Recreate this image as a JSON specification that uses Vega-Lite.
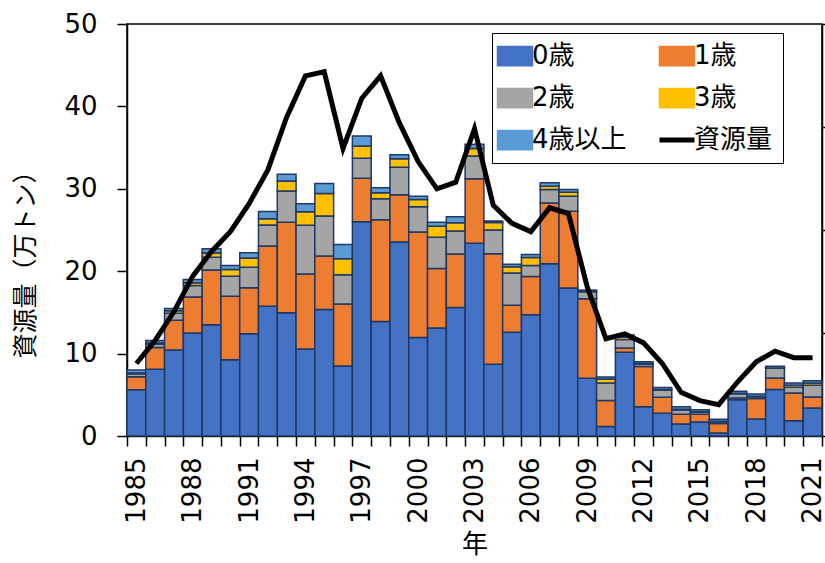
{
  "$schema": "https://vega.github.io/schema/vega-lite/v6.json",
  "autosize": "none",
  "width": 695,
  "height": 412,
  "padding": {"left": 127, "top": 24, "right": 3, "bottom": 127},
  "background": "white",
  "config": {
    "font": "DejaVu Sans, Noto Sans CJK JP",
    "view": {"stroke": "black", "strokeWidth": 1.5},
    "axis": {"domainColor": "black", "tickColor": "black", "domainWidth": 1.5, "tickWidth": 1.5, "labelColor": "black", "titleColor": "black", "grid": false, "titleFontWeight": "normal"}
  },
  "data": {"values": [
    {"year": 1985, "0歳": 5.6, "1歳": 1.6, "2歳": 0.35, "3歳": 0.1, "4歳以上": 0.35, "資源量": 8.8},
    {"year": 1986, "0歳": 8.1, "1歳": 2.65, "2歳": 0.4, "3歳": 0.15, "4歳以上": 0.3, "資源量": 11.6},
    {"year": 1987, "0歳": 10.45, "1歳": 3.6, "2歳": 0.85, "3歳": 0.3, "4歳以上": 0.28, "資源量": 15.1},
    {"year": 1988, "0歳": 12.5, "1歳": 4.38, "2歳": 1.38, "3歳": 0.33, "4歳以上": 0.4, "資源量": 19.4},
    {"year": 1989, "0歳": 13.5, "1歳": 6.66, "2歳": 1.53, "3歳": 0.53, "4歳以上": 0.49, "資源量": 22.4},
    {"year": 1990, "0歳": 9.25, "1歳": 7.71, "2歳": 2.43, "3歳": 0.81, "4歳以上": 0.49, "資源量": 24.8},
    {"year": 1991, "0歳": 12.4, "1歳": 5.59, "2歳": 2.48, "3歳": 1.13, "4歳以上": 0.65, "資源量": 28.2},
    {"year": 1992, "0歳": 15.75, "1歳": 7.3, "2歳": 2.55, "3歳": 0.78, "4歳以上": 0.85, "資源量": 32.3},
    {"year": 1993, "0歳": 14.95, "1歳": 10.98, "2歳": 3.81, "3歳": 1.22, "4歳以上": 0.81, "資源量": 38.7},
    {"year": 1994, "0歳": 10.55, "1歳": 9.12, "2歳": 5.91, "3歳": 1.63, "4歳以上": 0.98, "資源量": 43.7},
    {"year": 1995, "0歳": 15.35, "1歳": 6.48, "2歳": 4.87, "3歳": 2.72, "4歳以上": 1.22, "資源量": 44.2},
    {"year": 1996, "0歳": 8.5, "1歳": 7.51, "2歳": 3.57, "3歳": 1.94, "4歳以上": 1.71, "資源量": 34.9},
    {"year": 1997, "0歳": 26.0, "1歳": 5.27, "2歳": 2.44, "3歳": 1.49, "4歳以上": 1.22, "資源量": 41.0},
    {"year": 1998, "0歳": 13.9, "1歳": 12.34, "2歳": 2.55, "3歳": 0.73, "4歳以上": 0.61, "資源量": 43.7},
    {"year": 1999, "0歳": 23.55, "1歳": 5.72, "2歳": 3.36, "3歳": 1.02, "4歳以上": 0.49, "資源量": 38.0},
    {"year": 2000, "0歳": 11.95, "1歳": 12.82, "2歳": 3.04, "3歳": 0.89, "4歳以上": 0.4, "資源量": 33.3},
    {"year": 2001, "0歳": 13.1, "1歳": 7.22, "2歳": 3.8, "3歳": 1.34, "4歳以上": 0.49, "資源量": 30.0},
    {"year": 2002, "0歳": 15.6, "1歳": 6.49, "2歳": 2.8, "3歳": 0.98, "4歳以上": 0.73, "資源量": 30.8},
    {"year": 2003, "0歳": 23.4, "1歳": 7.83, "2歳": 2.75, "3歳": 0.9, "4歳以上": 0.52, "資源量": 37.3},
    {"year": 2004, "0歳": 8.7, "1歳": 13.43, "2歳": 2.88, "3歳": 0.9, "4歳以上": 0.19, "資源量": 28.0},
    {"year": 2005, "0歳": 12.6, "1歳": 3.28, "2歳": 3.89, "3歳": 0.78, "4歳以上": 0.28, "資源量": 25.8},
    {"year": 2006, "0歳": 14.7, "1歳": 4.66, "2歳": 1.34, "3歳": 0.97, "4歳以上": 0.37, "資源量": 24.8},
    {"year": 2007, "0歳": 20.9, "1歳": 7.39, "2歳": 1.62, "3歳": 0.4, "4歳以上": 0.41, "資源量": 27.7},
    {"year": 2008, "0歳": 17.95, "1歳": 9.33, "2歳": 1.82, "3歳": 0.49, "4歳以上": 0.33, "資源量": 27.0},
    {"year": 2009, "0歳": 7.0, "1歳": 9.66, "2歳": 0.85, "3歳": 0.05, "4歳以上": 0.15, "資源量": 18.1},
    {"year": 2010, "0歳": 1.15, "1歳": 3.16, "2歳": 2.12, "3歳": 0.49, "4歳以上": 0.24, "資源量": 11.8},
    {"year": 2011, "0歳": 10.15, "1歳": 0.54, "2歳": 1.01, "3歳": 0.28, "4歳以上": 0.29, "資源量": 12.4},
    {"year": 2012, "0歳": 3.55, "1歳": 4.87, "2歳": 0.29, "3歳": 0.1, "4歳以上": 0.2, "資源量": 11.3},
    {"year": 2013, "0歳": 2.75, "1歳": 1.95, "2歳": 0.89, "3歳": 0.05, "4歳以上": 0.25, "資源量": 8.8},
    {"year": 2014, "0歳": 1.45, "1歳": 1.18, "2歳": 0.52, "3歳": 0.1, "4歳以上": 0.3, "資源量": 5.3},
    {"year": 2015, "0歳": 1.7, "1歳": 0.94, "2歳": 0.24, "3歳": 0.05, "4歳以上": 0.25, "資源量": 4.3},
    {"year": 2016, "0歳": 0.35, "1歳": 1.18, "2歳": 0.2, "3歳": 0.05, "4歳以上": 0.25, "資源量": 3.8},
    {"year": 2017, "0歳": 4.4, "1歳": 0.2, "2歳": 0.53, "3歳": 0.05, "4歳以上": 0.25, "資源量": 6.55},
    {"year": 2018, "0歳": 2.05, "1歳": 2.51, "2歳": 0.2, "3歳": 0.05, "4歳以上": 0.3, "資源量": 9.0},
    {"year": 2019, "0歳": 5.65, "1歳": 1.39, "2歳": 1.17, "3歳": 0.05, "4歳以上": 0.2, "資源量": 10.3},
    {"year": 2020, "0歳": 1.85, "1歳": 3.37, "2歳": 0.69, "3歳": 0.24, "4歳以上": 0.29, "資源量": 9.5},
    {"year": 2021, "0歳": 3.4, "1歳": 1.34, "2歳": 1.41, "3歳": 0.29, "4歳以上": 0.28, "資源量": 9.5}
  ]},
  "encoding": {
    "x": {
      "field": "year", "type": "ordinal",
      "scale": {"paddingInner": 0, "paddingOuter": 0},
      "axis": {
        "title": "年", "titleFontSize": 26, "titlePadding": 8,
        "labelAngle": -90, "labelFontSize": 26, "labelPadding": 11,
        "tickSize": 10, "tickBand": "extent", "labelOverlap": false,
        "labelExpr": "(datum.value - 1985) % 3 === 0 ? datum.value : ''"
      }
    }
  },
  "layer": [
    {
      "transform": [{"fold": ["0歳", "1歳", "2歳", "3歳", "4歳以上"], "as": ["age", "value"]}],
      "mark": {"type": "bar", "stroke": "#1F3864", "strokeWidth": 1.5},
      "encoding": {
        "y": {
          "field": "value", "type": "quantitative", "stack": "zero",
          "scale": {"domain": [0, 50]},
          "axis": {
            "title": "資源量（万トン）", "titleFontSize": 25, "titleX": -102, "titleY": 234,
            "titleAngle": -90, "titleAlign": "center", "titleBaseline": "middle",
            "values": [0, 10, 20, 30, 40, 50], "labelFontSize": 26, "labelPadding": 20, "tickSize": 10
          }
        },
        "order": {"field": "age", "type": "nominal", "sort": "ascending"},
        "stroke": {"value": "#1F3864"},
        "color": {
          "field": "age", "type": "nominal",
          "scale": {
            "domain": ["0歳", "1歳", "2歳", "3歳", "4歳以上", "資源量"],
            "range": ["#4472C4", "#ED7D31", "#A5A5A5", "#FFC000", "#5B9BD5", "#000000"]
          },
          "legend": {
            "title": null, "orient": "none", "legendX": 365, "legendY": 9,
            "columns": 2, "direction": "horizontal",
            "symbolType": "M-1,-0.55H1V0.55H-1Z", "symbolSize": 1225,
            "symbolStrokeColor": "#1F3864", "symbolStrokeWidth": 1.5,
            "labelFontSize": 26, "labelOffset": 4, "labelColor": "black",
            "columnPadding": 22, "rowPadding": 16, "padding": 10,
            "strokeColor": "black", "fillColor": "white",
            "encode": {
              "symbols": {
                "update": {
                  "shape": {"signal": "datum.value === '資源量' ? 'M-1,0H1' : 'M-1,-0.55H1V0.55H-1Z'"},
                  "stroke": {"signal": "datum.value === '資源量' ? '#000000' : '#1F3864'"},
                  "strokeWidth": {"signal": "datum.value === '資源量' ? 5 : 1.5"},
                  "fill": {"scale": "color", "field": "value"},
                  "opacity": {"value": 1}
                }
              }
            }
          }
        }
      }
    },
    {
      "mark": {"type": "line", "strokeWidth": 5, "strokeJoin": "miter"},
      "encoding": {
        "y": {
          "field": "資源量", "type": "quantitative",
          "scale": {"domain": [0, 50]},
          "axis": {"orient": "right", "title": null, "labels": false, "values": [0, 12.5, 25, 37.5, 50], "tickSize": 6}
        },
        "color": {"datum": "資源量"}
      }
    }
  ],
  "resolve": {"scale": {"y": "independent"}}
}
